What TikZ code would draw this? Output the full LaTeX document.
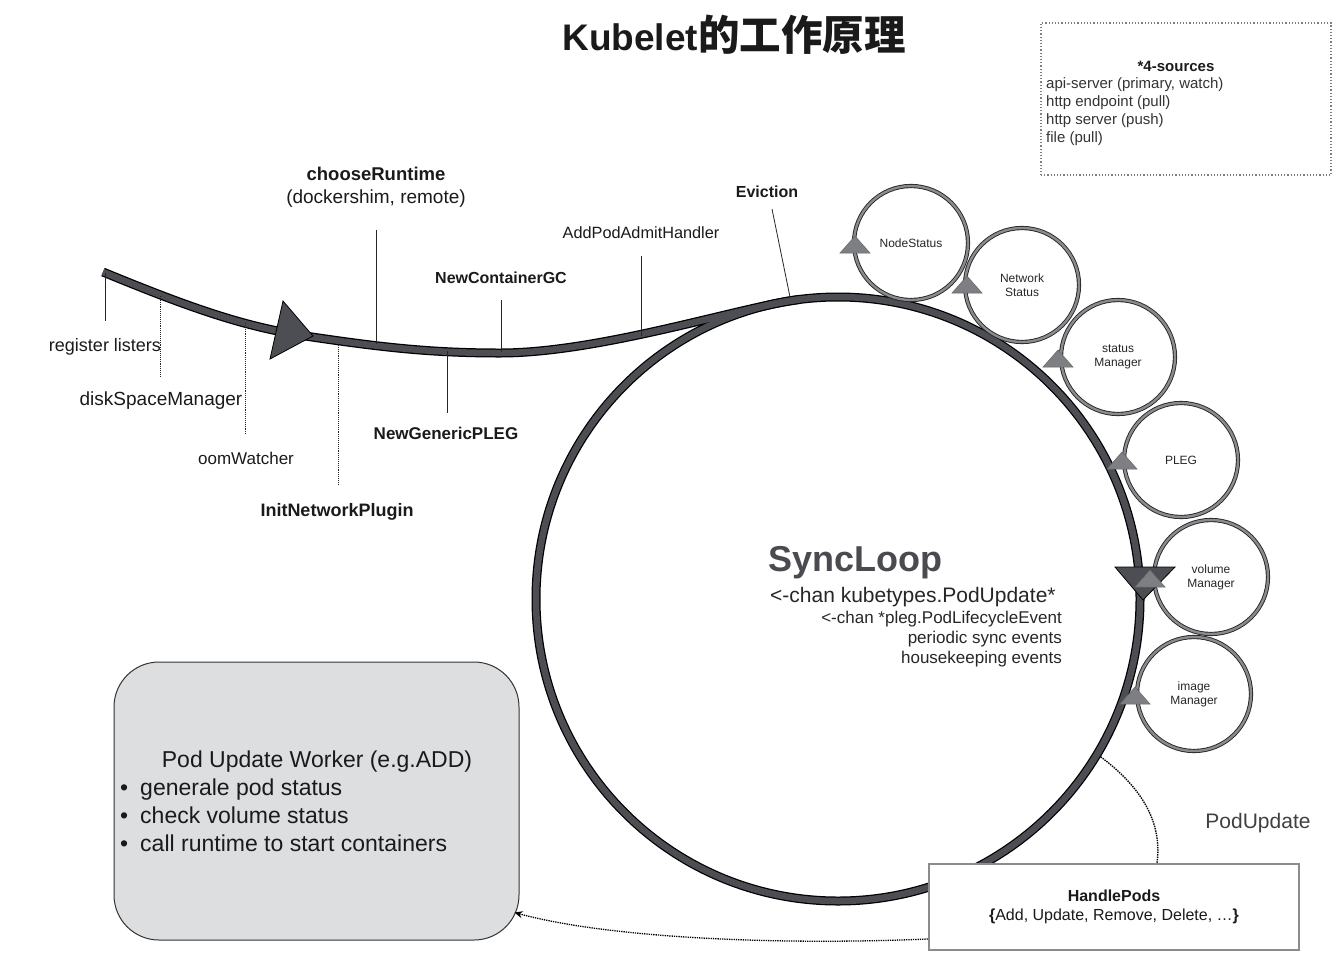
\documentclass[tikz,border=0pt]{standalone}
\usepackage{fontspec}
\setmainfont{Liberation Sans}
\newfontfamily\cjk{Noto Sans CJK SC}
\usetikzlibrary{arrows.meta}
\definecolor{ringgray}{HTML}{4C4E53}
\definecolor{satgray}{HTML}{8A8B8F}
\definecolor{trigray}{HTML}{7E7F83}
\definecolor{workfill}{HTML}{DDDEE0}
\definecolor{labcol}{HTML}{1A1A1A}
\definecolor{syncol}{HTML}{4A4B50}
\tikzset{
  lab/.style={inner sep=0pt, text=labcol},
  tickline/.style={draw=black!85, line width=0.8pt},
  dtick/.style={draw=black!85, line width=0.9pt, densely dotted},
  sat/.style={circle, draw=black!85, line width=0.9pt, double=satgray, double distance=2.4pt,
    minimum size=114pt, inner sep=0pt, align=center, font=\fontsize{12}{14}\selectfont, text=black!85},
  uptri/.pic={\filldraw[fill=trigray, draw=black!60, line width=0.5pt] (0,0) -- (-15,17) -- (15,17) -- cycle;},
}
\begin{document}
\begin{tikzpicture}[x=1pt,y=-1pt]
\useasboundingbox (0,0) rectangle (1333,954);

% title
\node[lab] (title) at (734,35) {\fontsize{37}{44}\selectfont\bfseries Kubelet{\cjk\fontsize{41.5}{46}\selectfont 的工作原理}};

% sources box
\node[draw=gray, dotted, line width=1.2pt, minimum width=290pt, minimum height=152pt, inner sep=0pt] (src) at (1186,99) {};
\node[lab, font=\fontsize{15}{18}\selectfont\bfseries] (srct) at (1176,66) {*4-sources};
\node[lab, anchor=west, font=\fontsize{15}{18}\selectfont, text=black!80] (src1) at (1046,85) {api-server (primary, watch)};
\node[lab, anchor=west, font=\fontsize{15}{18}\selectfont, text=black!80] (src2) at (1046,103) {http endpoint (pull)};
\node[lab, anchor=west, font=\fontsize{15}{18}\selectfont, text=black!80] (src3) at (1046,121) {http server (push)};
\node[lab, anchor=west, font=\fontsize{15}{18}\selectfont, text=black!80] (src4) at (1046,139) {file (pull)};

% big ring + incoming curve (two passes)
\node[circle, draw=black, line width=9pt, minimum size=604pt, inner sep=0pt] (sync) at (838,599) {};
\draw[black, line width=9pt] (103,272) .. controls (200,312) and (250,328) .. (312,337)
  .. controls (380,347) and (430,353) .. (500,353) .. controls (600,353) and (740,307) .. (800,299.4);
\draw[ringgray, line width=6.5pt] (sync.center) circle[radius=302];
\draw[ringgray, line width=6.5pt] (103,272) .. controls (200,312) and (250,328) .. (312,337)
  .. controls (380,347) and (430,353) .. (500,353) .. controls (600,353) and (740,307) .. (800,299.4);

% big arrow on incoming curve
\filldraw[fill=ringgray, draw=black, line width=0.8pt] (283,301) -- (313,336) -- (270,359) -- cycle;

% ticks
\coordinate (t1a) at (105,273); \coordinate (t1b) at (105,321);
\coordinate (t2a) at (160,296); \coordinate (t2b) at (160,376);
\coordinate (t3a) at (245,323); \coordinate (t3b) at (245,434);
\coordinate (t4a) at (338,345); \coordinate (t4b) at (338,485);
\coordinate (t5a) at (376,230); \coordinate (t5b) at (376,344);
\coordinate (t6a) at (447,351); \coordinate (t6b) at (447,413);
\coordinate (t7a) at (501,300); \coordinate (t7b) at (501,352);
\coordinate (t8a) at (641,256); \coordinate (t8b) at (641,336);
\coordinate (t9a) at (772,209); \coordinate (t9b) at (790,297);
\draw[tickline] (t1a) -- (t1b);
\draw[dtick] (t2a) -- (t2b);
\draw[dtick] (t3a) -- (t3b);
\draw[dtick] (t4a) -- (t4b);
\draw[tickline] (t5a) -- (t5b);
\draw[tickline] (t6a) -- (t6b);
\draw[tickline] (t7a) -- (t7b);
\draw[tickline] (t8a) -- (t8b);
\draw[tickline] (t9a) -- (t9b);

% tick labels
\node[lab, font=\fontsize{18}{21}\selectfont] (l1) at (105,347) {register listers};
\node[lab, font=\fontsize{19}{22}\selectfont] (l2) at (161,401) {diskSpaceManager};
\node[lab, font=\fontsize{17}{20}\selectfont] (l3) at (246,458) {oomWatcher};
\node[lab, font=\fontsize{18}{21}\selectfont\bfseries] (l4) at (337,512) {InitNetworkPlugin};
\node[lab, font=\fontsize{18.5}{22}\selectfont\bfseries] (l5) at (376,174) {chooseRuntime};
\node[lab, font=\fontsize{19}{22}\selectfont] (l5b) at (376,199) {(dockershim, remote)};
\node[lab, font=\fontsize{17}{20}\selectfont\bfseries] (l6) at (446,433) {NewGenericPLEG};
\node[lab, font=\fontsize{16}{19}\selectfont\bfseries] (l7) at (501,278) {NewContainerGC};
\node[lab, font=\fontsize{16.3}{19}\selectfont] (l8) at (641,233) {AddPodAdmitHandler};
\node[lab, font=\fontsize{16}{19}\selectfont\bfseries] (l9) at (767,192) {Eviction};

% satellites
\node[sat] (ns) at (911,243) {NodeStatus};
\node[sat] (nw) at (1022,285) {Network\\Status};
\node[sat] (sm) at (1118,357) {status\\Manager};
\node[sat] (pl) at (1181,460) {PLEG};
\node[sat] (vm) at (1211,577) {volume\\Manager};
\node[sat] (im) at (1194,694) {image\\Manager};

% big down arrow on ring
\filldraw[fill=ringgray, draw=black, line width=0.8pt] (1115,567) -- (1175,567) -- (1143,600) -- cycle;

% small arrows on satellites
\pic at (855,236) {uptri};
\pic at (967,276) {uptri};
\pic at (1058,350) {uptri};
\pic at (1122,452) {uptri};
\pic at (1150,570) {uptri};
\pic at (1135,687) {uptri};

% SyncLoop text
\node[lab, anchor=west, text=syncol, font=\fontsize{36}{40}\selectfont\bfseries] (sl) at (768,563) {SyncLoop};
\node[lab, anchor=west, text=black!85, font=\fontsize{21}{24}\selectfont] (sl1) at (770,597) {<-chan kubetypes.PodUpdate*};
\node[lab, anchor=east, text=black!85, font=\fontsize{17}{20}\selectfont] (sl2) at (1062,619) {<-chan *pleg.PodLifecycleEvent};
\node[lab, anchor=east, text=black!85, font=\fontsize{17}{20}\selectfont] (sl3) at (1062,639) {periodic sync events};
\node[lab, anchor=east, text=black!85, font=\fontsize{17}{20}\selectfont] (sl4) at (1062,659) {housekeeping events};

% worker box
\node[draw=black!80, line width=1pt, fill=workfill, rounded corners=45pt, minimum width=405pt, minimum height=278pt, inner sep=0pt] (pw) at (316.5,801) {};
\node[lab, anchor=base, font=\fontsize{23}{27}\selectfont] (pwt) at (317,767.5) {Pod Update Worker (e.g.ADD)};
\node[lab, anchor=base west, font=\fontsize{23}{27}\selectfont] (pw1) at (120,795.5) {•\hspace{12pt}generale pod status};
\node[lab, anchor=base west, font=\fontsize{23}{27}\selectfont] (pw2) at (120,823.5) {•\hspace{12pt}check volume status};
\node[lab, anchor=base west, font=\fontsize{23}{27}\selectfont] (pw3) at (120,851.5) {•\hspace{12pt}call runtime to start containers};

% HandlePods box
\node[draw=gray!90, line width=2pt, fill=white, minimum width=370pt, minimum height=86pt, align=center,
  font=\fontsize{16}{19}\selectfont, text=labcol] (hp) at (1114,907)
  {\textbf{HandlePods}\\\textbf{\{}Add, Update, Remove, Delete, …\textbf{\}}};

% PodUpdate label and connectors
\node[lab, text=black!75, font=\fontsize{21}{24}\selectfont] (pu) at (1258,823) {PodUpdate};
\draw[densely dotted, line width=1.4pt] (sync.-31) .. controls (1145,790) and (1162,825) .. ([xshift=43pt]hp.north);
\draw[densely dotted, line width=1.3pt, -{Stealth[length=8pt,width=7pt]}] ([yshift=-32pt]hp.west)
  .. controls (760,946) and (600,936) .. ([shift={(-5,-28)}]pw.south east);
\end{tikzpicture}
\end{document}
